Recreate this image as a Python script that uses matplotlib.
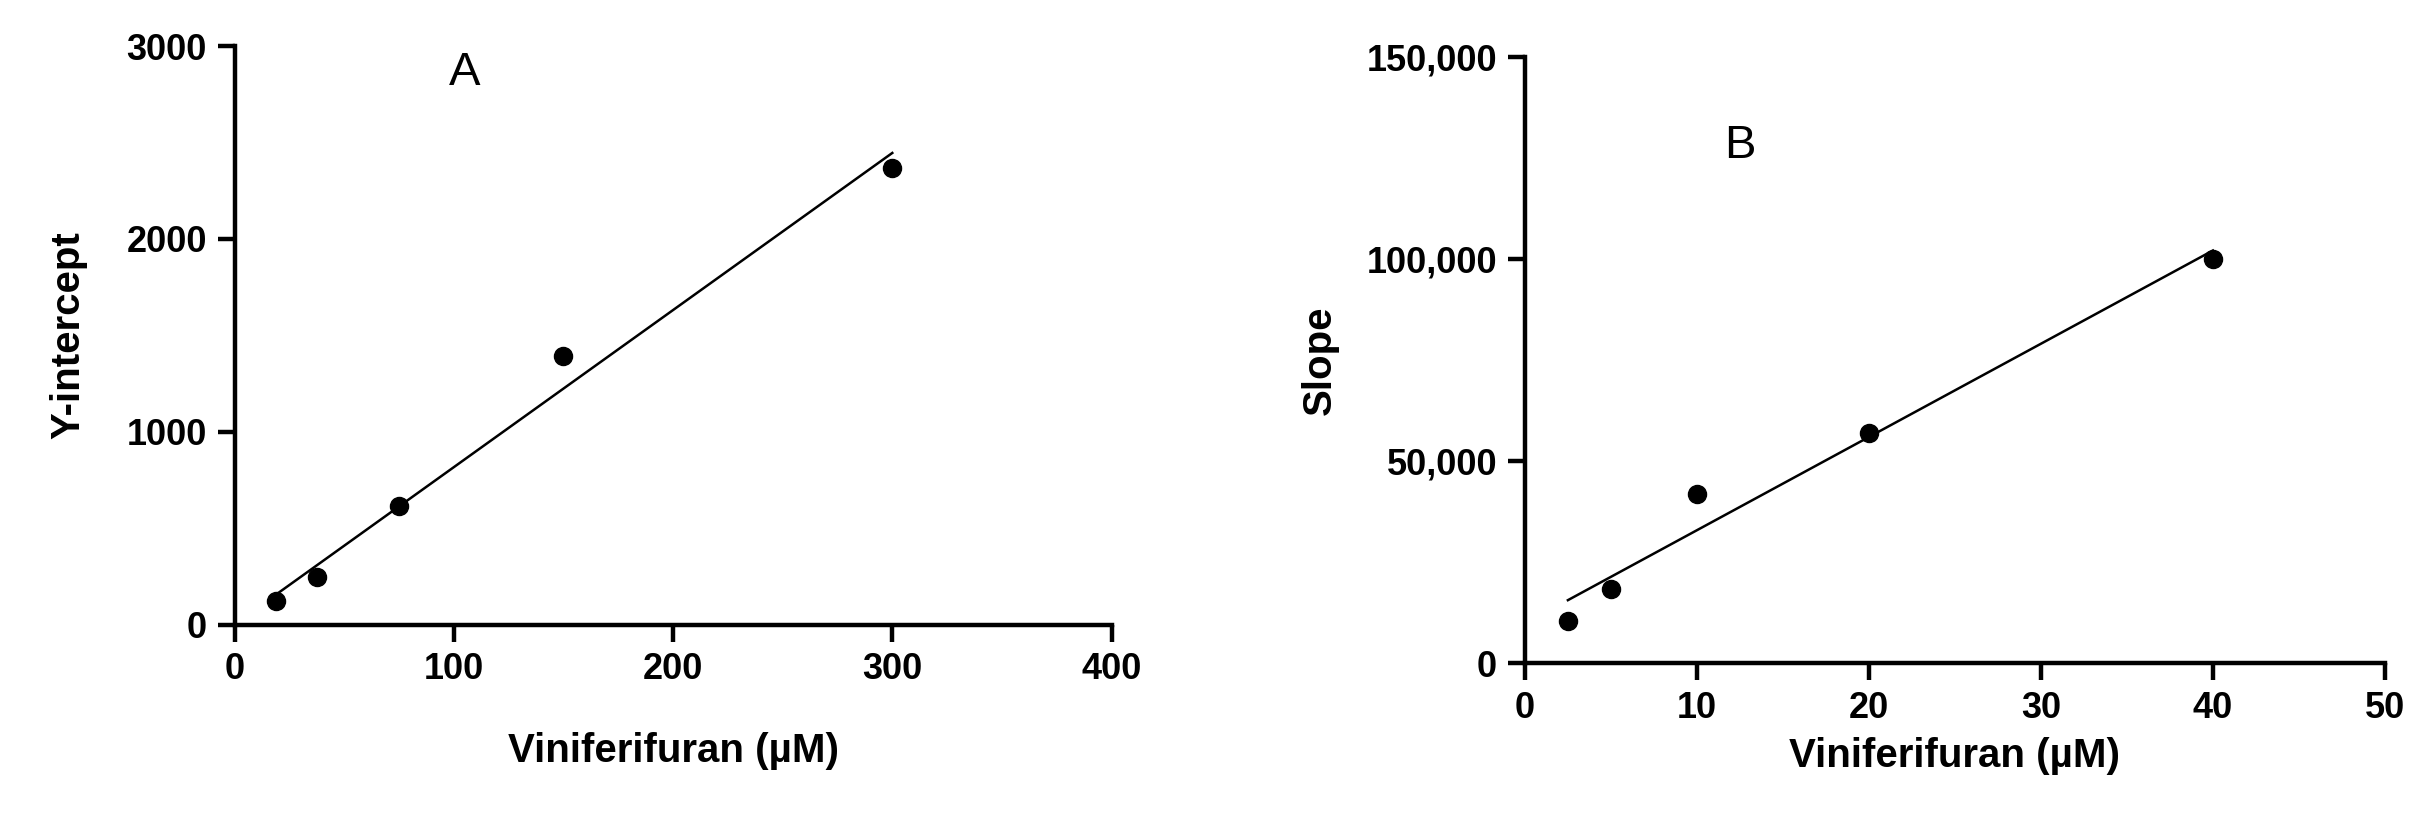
import numpy as np
import matplotlib
matplotlib.use("Agg")
import matplotlib.pyplot as plt

plt.rcParams['font.family'] = ['Liberation Sans', 'DejaVu Sans']

conc_a = [18.75, 37.5, 75, 150, 300]
yint_a = [120, 245, 615, 1395, 2370]
conc_b = [2.5, 5, 10, 20, 40]
slope_b = [10500, 18500, 42000, 57000, 100000]

fig = plt.figure(figsize=(24.09, 8.24), dpi=100)
axA = fig.add_axes([0.0974, 0.242, 0.364, 0.702])
axB = fig.add_axes([0.633, 0.195, 0.357, 0.736])

def style(ax):
    for s in ['top', 'right']:
        ax.spines[s].set_visible(False)
    for s in ['left', 'bottom']:
        ax.spines[s].set_linewidth(3.2)
    ax.tick_params(width=3.2, length=12, labelsize=26, pad=8)
    for lab in ax.get_xticklabels() + ax.get_yticklabels():
        lab.set_fontweight('bold')

# Panel A
x = np.array(conc_a); y = np.array(yint_a)
p = np.polyfit(x, y, 1)
xx = np.array([x.min(), x.max()])
axA.plot(xx, np.polyval(p, xx), color='black', lw=1.8)
axA.plot(x, y, 'o', color='black', ms=13)
axA.set_xlim(0, 400); axA.set_ylim(0, 3000)
axA.set_xticks([0, 100, 200, 300, 400]); axA.set_yticks([0, 1000, 2000, 3000])
axA.set_xlabel('Viniferifuran (µM)', fontsize=29, fontweight='bold', labelpad=32)
axA.set_ylabel('Y-intercept', fontsize=29, fontweight='bold', labelpad=28)
axA.text(105, 2860, 'A', fontsize=34, ha='center', va='center')
style(axA)

# Panel B
x = np.array(conc_b); y = np.array(slope_b)
p = np.polyfit(x, y, 1)
xx = np.array([x.min(), x.max()])
axB.plot(xx, np.polyval(p, xx), color='black', lw=1.8)
axB.plot(x, y, 'o', color='black', ms=13)
axB.set_xlim(0, 50); axB.set_ylim(0, 150000)
axB.set_xticks([0, 10, 20, 30, 40, 50]); axB.set_yticks([0, 50000, 100000, 150000])
axB.set_yticklabels(['0', '50,000', '100,000', '150,000'])
axB.set_xlabel('Viniferifuran (µM)', fontsize=29, fontweight='bold', labelpad=8)
axB.set_ylabel('Slope', fontsize=29, fontweight='bold', labelpad=20)
axB.text(12.5, 128000, 'B', fontsize=34, ha='center', va='center')
style(axB)

fig.savefig('out.png', dpi=100)
